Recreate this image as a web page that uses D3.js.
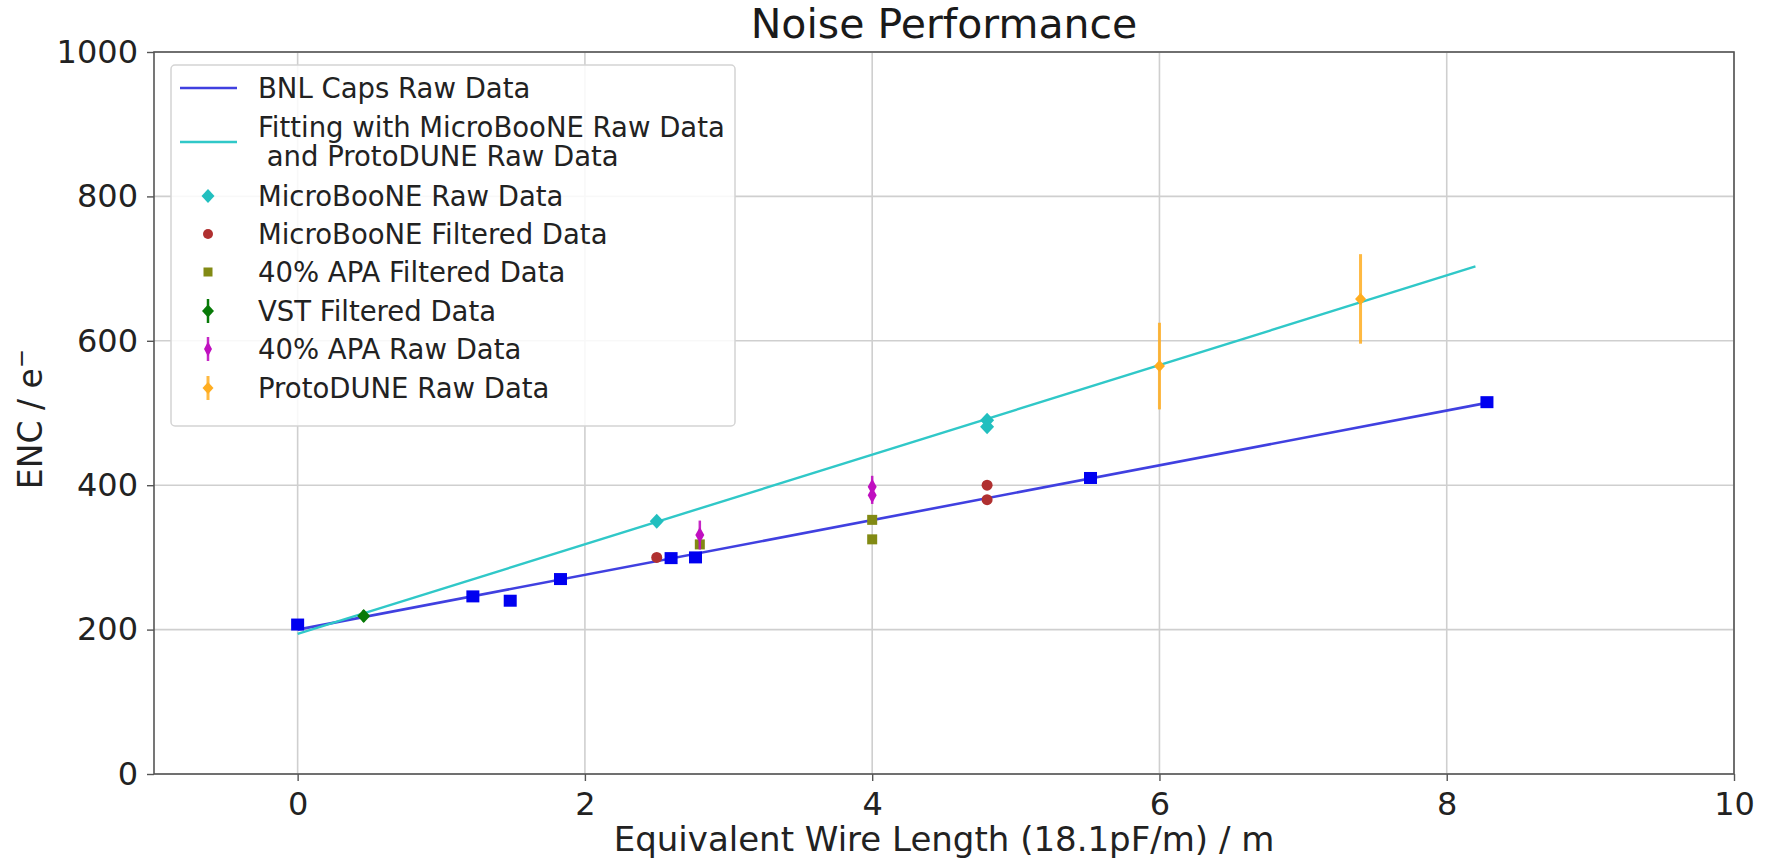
<!DOCTYPE html>
<html>
<head>
<meta charset="utf-8">
<script src="https://cdn.jsdelivr.net/npm/d3@7"></script>
<style>
  html, body { margin: 0; padding: 0; background: #fff; }
  svg { display: block; font-family: "DejaVu Sans", sans-serif; }
</style>
</head>
<body>
<svg id="chart" width="1769" height="863"></svg>
<script>
// Axis ticks
const xTicks = [0, 2, 4, 6, 8, 10];
const yTicks = [0, 200, 400, 600, 800, 1000];

// BNL capacitor measurements and their straight-line trend
const bnlX = [0, 1.22, 1.48, 1.83, 2.6, 2.77, 5.52, 8.28];
const bnlY = [207, 246, 240, 270, 299, 300, 410, 515];
const bnlLineX = [0, 8.28];
const bnlLineY = [200, 514];

// Fit through MicroBooNE and ProtoDUNE raw data
const fitLineX = [0, 8.2];
const fitLineY = [194, 703];

// MicroBooNE
const uboneRawX = [2.5, 4.8, 4.8];
const uboneRawY = [350, 490, 481];
const uboneFiltX = [2.5, 4.8, 4.8];
const uboneFiltY = [300, 400, 380];

// 40% APA
const apaFiltX = [2.8, 4.0, 4.0];
const apaFiltY = [318, 352, 325];
const apaRawX = [2.8, 4.0, 4.0];
const apaRawY = [331, 398, 386];
const apaRawErr = [20, 15, 12];

// VST
const vstX = [0.46];
const vstY = [219];
const vstErr = [8];

// ProtoDUNE
const protoX = [6.0, 7.4];
const protoY = [565, 658];
const protoErr = [60, 62];

const legendLabels = [
  "BNL Caps Raw Data",
  "Fitting with MicroBooNE Raw Data\n and ProtoDUNE Raw Data",
  "MicroBooNE Raw Data",
  "MicroBooNE Filtered Data",
  "40% APA Filtered Data",
  "VST Filtered Data",
  "40% APA Raw Data",
  "ProtoDUNE Raw Data"
];

const C = {
  blue: "#0000f0", blueLine: "#4040e0", cyan: "#22bfbf", cyanLine: "#30c8c8",
  brown: "#b03030", olive: "#828a14", green: "#087a08", magenta: "#c010c0", orange: "#ffad20"
};

const W = 1769, H = 863;
const m = { left: 154, right: 35, top: 52, bottom: 89 };
const svg = d3.select("#chart");

const x = d3.scaleLinear().domain([-1, 10]).range([m.left, W - m.right]);
const y = d3.scaleLinear().domain([0, 1000]).range([H - m.bottom, m.top]);

svg.append("rect").attr("width", W).attr("height", H).attr("fill", "#fff");

// grid
const grid = svg.append("g");
grid.selectAll("line.gx").data(xTicks).join("line")
  .attr("x1", d => x(d)).attr("x2", d => x(d))
  .attr("y1", y(0)).attr("y2", y(1000))
  .attr("stroke", "#cfcfcf").attr("stroke-width", 1.6);
grid.selectAll("line.gy").data(yTicks).join("line")
  .attr("x1", x(-1)).attr("x2", x(10))
  .attr("y1", d => y(d)).attr("y2", d => y(d))
  .attr("stroke", "#cfcfcf").attr("stroke-width", 1.6);

// axes
const xAxis = svg.append("g").attr("transform", `translate(0,${y(0)})`)
  .call(d3.axisBottom(x).tickValues(xTicks).tickSize(7).tickPadding(11).tickFormat(d3.format("d")));
const yAxis = svg.append("g").attr("transform", `translate(${x(-1)},0)`)
  .call(d3.axisLeft(y).tickValues(yTicks).tickSize(7).tickPadding(9).tickFormat(d3.format("d")));
[xAxis, yAxis].forEach(a => {
  a.select(".domain").remove();
  a.selectAll(".tick line").attr("stroke", "#555").attr("stroke-width", 1.4);
  a.selectAll(".tick text").attr("font-size", 32).attr("fill", "#222")
    .attr("font-family", "DejaVu Sans, sans-serif");
});

// frame
svg.append("rect")
  .attr("x", x(-1)).attr("y", y(1000))
  .attr("width", x(10) - x(-1)).attr("height", y(0) - y(1000))
  .attr("fill", "none").attr("stroke", "#555").attr("stroke-width", 1.6);

const plot = svg.append("g");
const line = d3.line().x(d => x(d[0])).y(d => y(d[1]));

plot.append("path").datum(bnlLineX.map((v, i) => [v, bnlLineY[i]]))
  .attr("d", line).attr("fill", "none").attr("stroke", C.blueLine).attr("stroke-width", 2.6);
plot.append("path").datum(fitLineX.map((v, i) => [v, fitLineY[i]]))
  .attr("d", line).attr("fill", "none").attr("stroke", C.cyanLine).attr("stroke-width", 2.4);

// marker shapes
function sq(g, w, h, col) {
  g.append("rect").attr("x", -w / 2).attr("y", -h / 2).attr("width", w).attr("height", h).attr("fill", col);
}
function dia(g, w, h, col) {
  g.append("path").attr("d", `M0,${-h/2}L${w/2},0L0,${h/2}L${-w/2},0Z`).attr("fill", col);
}
function dot(g, r, col) {
  g.append("circle").attr("r", r).attr("fill", col);
}
function errBar(g, e, col, sw, op) {
  g.append("line").attr("x1", 0).attr("x2", 0).attr("y1", -e).attr("y2", e)
    .attr("stroke", col).attr("stroke-width", sw).attr("opacity", op);
}

function series(xs, ys, draw, errs, col, sw, op) {
  xs.forEach((xv, i) => {
    const g = plot.append("g").attr("transform", `translate(${x(xv)},${y(ys[i])})`);
    if (errs) {
      const e = y(0) - y(errs[i]);
      errBar(g, e, col, sw, op);
    }
    draw(g);
  });
}

series(bnlX, bnlY, g => sq(g, 13, 12, C.blue));
series(uboneRawX, uboneRawY, g => dia(g, 14, 15, C.cyan));
series(uboneFiltX, uboneFiltY, g => dot(g, 5.5, C.brown));
series(apaFiltX, apaFiltY, g => sq(g, 10, 10, C.olive));
series(vstX, vstY, g => dia(g, 13, 14, C.green), vstErr, C.green, 2.5, 1);
series(apaRawX, apaRawY, g => dia(g, 9, 16, C.magenta), apaRawErr, C.magenta, 2.5, 0.9);
series(protoX, protoY, g => { dia(g, 11, 12, C.orange); }, protoErr, C.orange, 3, 0.85);

// legend
const lg = svg.append("g");
const lx0 = 171, ly0 = 65, lw = 564, lh = 361;
lg.append("rect").attr("x", lx0).attr("y", ly0).attr("width", lw).attr("height", lh)
  .attr("rx", 4).attr("fill", "#fff").attr("fill-opacity", 0.85)
  .attr("stroke", "#d4d4d4").attr("stroke-width", 1.5);

const rowY = [88, 142, 196, 234, 272, 311, 349, 388];
const handleX0 = 180, handleX1 = 237, hx = 208, textX = 258;
const legendDraw = [
  g => g.append("line").attr("x1", handleX0 - hx).attr("x2", handleX1 - hx).attr("stroke", C.blueLine).attr("stroke-width", 2.6),
  g => g.append("line").attr("x1", handleX0 - hx).attr("x2", handleX1 - hx).attr("stroke", C.cyanLine).attr("stroke-width", 2.4),
  g => dia(g, 13, 14, C.cyan),
  g => dot(g, 5, C.brown),
  g => sq(g, 9, 9, C.olive),
  g => { errBar(g, 12, C.green, 2.5, 1); dia(g, 12, 13, C.green); },
  g => { errBar(g, 12, C.magenta, 2.5, 0.9); dia(g, 8, 15, C.magenta); },
  g => { errBar(g, 12, C.orange, 3, 0.85); dia(g, 11, 12, C.orange); }
];
legendLabels.forEach((lab, i) => {
  const g = lg.append("g").attr("transform", `translate(${hx},${rowY[i]})`);
  legendDraw[i](g);
  const lines = lab.split("\n");
  const t = lg.append("text").attr("x", textX).attr("font-size", 27.5).attr("fill", "#222")
    .attr("xml:space", "preserve").style("white-space", "pre");
  const startY = rowY[i] - (lines.length - 1) * 14.5 + 9.5;
  lines.forEach((s, k) => {
    t.append("tspan").attr("x", textX).attr("y", startY + k * 29).text(s);
  });
});

// title and axis labels
svg.append("text").attr("x", (x(-1) + x(10)) / 2).attr("y", 38)
  .attr("text-anchor", "middle").attr("font-size", 41).attr("fill", "#1a1a1a")
  .text("Noise Performance");
svg.append("text").attr("x", (x(-1) + x(10)) / 2).attr("y", 851)
  .attr("text-anchor", "middle").attr("font-size", 34).attr("fill", "#222")
  .text("Equivalent Wire Length (18.1pF/m) / m");
const yl = svg.append("text")
  .attr("transform", `translate(42,${(y(0) + y(1000)) / 2 + 6}) rotate(-90)`)
  .attr("text-anchor", "middle").attr("font-size", 33).attr("fill", "#222");
yl.append("tspan").text("ENC / e");
yl.append("tspan").attr("dy", -13).attr("font-size", 23).text("\u2212");
</script>
</body>
</html>
